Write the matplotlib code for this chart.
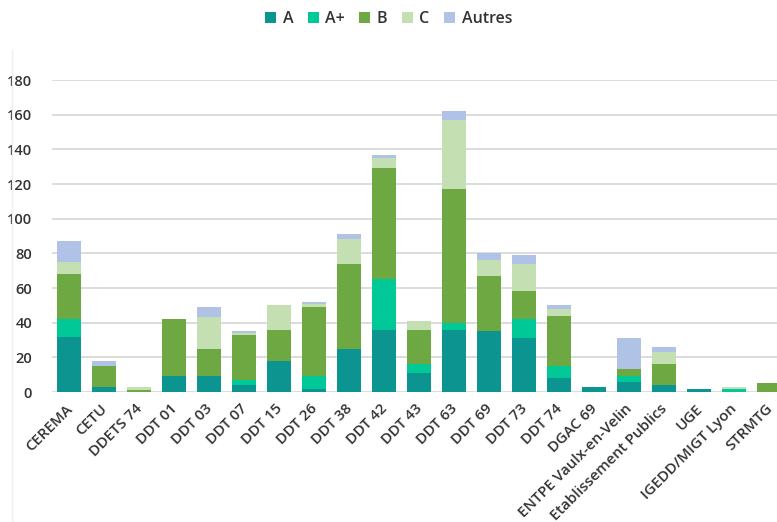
import matplotlib
matplotlib.use("Agg")
import matplotlib.pyplot as plt
import matplotlib.transforms as mtransforms
import numpy as np

categories = ["CEREMA", "CETU", "DDETS 74", "DDT 01", "DDT 03", "DDT 07", "DDT 15",
              "DDT 26", "DDT 38", "DDT 42", "DDT 43", "DDT 63", "DDT 69", "DDT 73",
              "DDT 74", "DGAC 69", "ENTPE Vaulx-en-Velin", "Etablissement Publics",
              "UGE", "IGEDD/MIGT Lyon", "STRMTG"]
series_names = ["A", "A+", "B", "C", "Autres"]
vals_A      = [32, 3, 0, 9, 9, 4, 18, 2, 25, 36, 11, 36, 35, 31, 8, 3, 6, 4, 2, 0, 0]
vals_Aplus  = [10, 0, 0, 0, 0, 3, 0, 7, 0, 29, 5, 4, 0, 11, 7, 0, 3, 0, 0, 2, 0]
vals_B      = [26, 12, 1, 33, 16, 26, 18, 40, 49, 64, 20, 77, 32, 16, 29, 0, 4, 12, 0, 0, 5]
vals_C      = [7, 0, 2, 0, 18, 1, 14, 2, 14, 6, 5, 40, 9, 16, 4, 0, 0, 7, 0, 1, 0]
vals_Autres = [12, 3, 0, 0, 6, 1, 0, 1, 3, 2, 0, 5, 4, 5, 2, 0, 18, 3, 0, 0, 0]
colors = ["#0b9490", "#00c896", "#6ea843", "#c4dfb2", "#b0c3e6"]
yticks = [0, 20, 40, 60, 80, 100, 120, 140, 160, 180]

plt.rcParams['font.family'] = ['Open Sans', 'DejaVu Sans']
fig = plt.figure(figsize=(7.77, 5.22), dpi=100)
ax = fig.add_axes([51.5/777, 130/522, 735/777, 312/522])

x = np.arange(len(categories))
bottom = np.zeros(len(categories))
series = [vals_A, vals_Aplus, vals_B, vals_C, vals_Autres]
handles = []
for name, v, c in zip(series_names, series, colors):
    v = np.array(v, dtype=float)
    b = ax.bar(x, v, bottom=bottom, width=0.66, color=c, label=name, zorder=3)
    handles.append(b)
    bottom += v

ax.set_xlim(-0.5, len(categories) - 0.5)
ax.set_ylim(0, 180)
ax.set_yticks(yticks)
ax.yaxis.grid(True, color="#dcdcdc", linewidth=1.4, zorder=0)
for s in ax.spines.values():
    s.set_visible(False)
ax.tick_params(axis="both", length=0, labelcolor="#333333")
ax.tick_params(axis="y", pad=14, labelsize=10.5)
ax.tick_params(axis="x", pad=7, labelsize=10.8)
ax.set_xticks(x)
ax.set_xticklabels(categories, rotation=45, ha="right", rotation_mode="anchor",
                   fontweight="semibold")
shift = mtransforms.ScaledTranslation(-4/100, 0, fig.dpi_scale_trans)
for t in ax.get_xticklabels():
    t.set_transform(t.get_transform() + shift)
for t in ax.get_yticklabels():
    t.set_fontweight("semibold")
ax.axhline(0, color="#dcdcdc", linewidth=1.4, zorder=2)

fig.legend(handles=handles, labels=series_names, loc="center", bbox_to_anchor=(0.5, 1 - 19/522),
           ncol=5, frameon=False, handlelength=0.7, handleheight=0.7, handletextpad=0.4,
           columnspacing=0.9, prop={"size": 11.5, "weight": "semibold"}, labelcolor="#333333")

fig.add_artist(plt.Line2D([12/777, 12/777], [0, 1 - 50/522], color="#eeeeee", linewidth=1,
                          transform=fig.transFigure))
fig.savefig("out.png", dpi=100)
